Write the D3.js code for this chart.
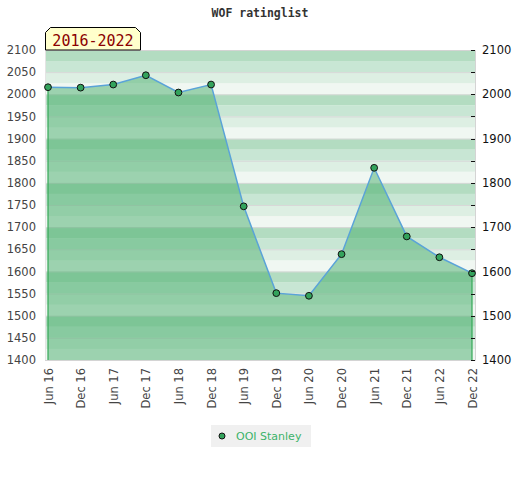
<!DOCTYPE html>
<html>
<head>
<meta charset="utf-8">
<script src="https://cdn.jsdelivr.net/npm/d3@7"></script>
<style>
  body { margin: 0; background: #fff; }
</style>
</head>
<body>
<svg id="chart" width="520" height="480"></svg>
<script>
// data
var months = ["Jun 16", "Dec 16", "Jun 17", "Dec 17", "Jun 18", "Dec 18", "Jun 19",
              "Dec 19", "Jun 20", "Dec 20", "Jun 21", "Dec 21", "Jun 22", "Dec 22"];
var ratings = [2016, 2015, 2022, 2043, 2004, 2022, 1747,
               1551, 1545, 1639, 1834, 1679, 1632, 1596];
var seriesName = "OOI Stanley";
var yTicks = [1400, 1450, 1500, 1550, 1600, 1650, 1700, 1750, 1800, 1850, 1900, 1950, 2000, 2050, 2100];
var periodLabel = "2016-2022";

var svg = d3.select("#chart");
var plot = {left: 45, right: 475, top: 50, bottom: 360};

var x = d3.scalePoint()
    .domain(d3.range(months.length))
    .range([plot.left + 3, plot.right - 3]);
var y = d3.scaleLinear().domain([1400, 2100]).range([plot.bottom, plot.top]);

// background bands, 25 points each
var bandColors = ["#b3dcc1", "#c8e6d4", "#ddefe3", "#f0f7f2"];
var bands = d3.range(1400, 2100, 25);
svg.append("g").selectAll("rect")
    .data(bands)
    .enter().append("rect")
    .attr("x", plot.left)
    .attr("width", plot.right - plot.left)
    .attr("y", function (d) { return y(d + 25); })
    .attr("height", function (d) { return y(d) - y(d + 25); })
    .attr("fill", function (d) {
        var i = Math.round((2100 - (d + 25)) / 25) % 4;
        return bandColors[i];
    });

// grid lines every 50
svg.append("g").selectAll("line")
    .data(yTicks)
    .enter().append("line")
    .attr("x1", plot.left).attr("x2", plot.right)
    .attr("y1", function (d) { return y(d) + 0.5; })
    .attr("y2", function (d) { return y(d) + 0.5; })
    .attr("stroke", "#d8d8d8")
    .attr("stroke-width", 1);

// frame
svg.append("path")
    .attr("d", "M" + plot.left + "," + (plot.top + 0.5) + "H" + (plot.right + 0.5) +
               "V" + (plot.bottom + 0.5) + "H" + plot.left)
    .attr("fill", "none")
    .attr("stroke", "#d4d4d4");
svg.append("line")
    .attr("x1", plot.left + 0.5).attr("x2", plot.left + 0.5)
    .attr("y1", plot.top).attr("y2", plot.bottom)
    .attr("stroke", "#e4e4e4");

// area
var area = d3.area()
    .x(function (d, i) { return x(i); })
    .y0(plot.bottom)
    .y1(function (d) { return y(d); });
svg.append("path")
    .datum(ratings)
    .attr("d", area)
    .attr("fill", "#47ad6b")
    .attr("fill-opacity", 0.5);

// area sides
var last = ratings.length - 1;
svg.append("g").selectAll("line")
    .data([0, last])
    .enter().append("line")
    .attr("x1", function (i) { return x(i); })
    .attr("x2", function (i) { return x(i); })
    .attr("y1", function (i) { return y(ratings[i]); })
    .attr("y2", plot.bottom)
    .attr("stroke", "#35a857")
    .attr("stroke-width", 1.2);

// line
var line = d3.line()
    .x(function (d, i) { return x(i); })
    .y(function (d) { return y(d); });
svg.append("path")
    .datum(ratings)
    .attr("d", line)
    .attr("fill", "none")
    .attr("stroke", "#5aa3d8")
    .attr("stroke-width", 1.5);

// markers
svg.append("g").selectAll("circle")
    .data(ratings)
    .enter().append("circle")
    .attr("cx", function (d, i) { return x(i); })
    .attr("cy", function (d) { return y(d); })
    .attr("r", 3.4)
    .attr("fill", "#33a35c")
    .attr("stroke", "#111")
    .attr("stroke-width", 1);

// left axis
var leftAxis = svg.append("g")
    .attr("transform", "translate(" + plot.left + ",0)")
    .call(d3.axisLeft(y).tickValues(yTicks).tickSize(0).tickPadding(9).tickFormat(d3.format("d")));
leftAxis.select(".domain").remove();
leftAxis.selectAll("text")
    .attr("font-size", 11.5)
    .attr("fill", "#444")
    .attr("font-family", "DejaVu Sans");

// right axis
var rightAxis = svg.append("g")
    .attr("transform", "translate(" + plot.right + ",0)")
    .call(d3.axisRight(y).tickValues(yTicks).tickSize(0).tickPadding(7)
        .tickFormat(function (d) { return d % 100 === 0 ? d : ""; }));
rightAxis.select(".domain").remove();
rightAxis.selectAll("text")
    .attr("font-size", 11.5)
    .attr("fill", "#111")
    .attr("font-family", "DejaVu Sans");
rightAxis.selectAll(".tick")
    .append("line")
    .attr("x1", -4).attr("x2", 0)
    .attr("stroke", "#111")
    .attr("shape-rendering", "crispEdges");

// bottom labels
var bottomAxis = svg.append("g")
    .attr("transform", "translate(0," + plot.bottom + ")")
    .call(d3.axisBottom(x).tickSize(0).tickFormat(function (i) { return months[i]; }));
bottomAxis.select(".domain").remove();
bottomAxis.selectAll("text")
    .attr("transform", "rotate(-90)")
    .attr("text-anchor", "end")
    .attr("dy", "0.35em")
    .attr("x", -8)
    .attr("y", 0)
    .attr("font-size", 11.5)
    .attr("fill", "#444")
    .attr("font-family", "DejaVu Sans");

// title
svg.append("text")
    .attr("x", 260).attr("y", 17)
    .attr("text-anchor", "middle")
    .attr("font-family", "DejaVu Sans Mono")
    .attr("font-weight", "bold")
    .attr("font-size", 11.5)
    .attr("fill", "#333")
    .text("WOF ratinglist");

// period label box
var bx = 45.5, by = 27.5, bw = 95, bh = 22.5, c = 5;
svg.append("path")
    .attr("d", "M" + bx + "," + (by + bh) + "V" + (by + c) + "L" + (bx + c) + "," + by +
               "H" + (bx + bw - c) + "L" + (bx + bw) + "," + (by + c) + "V" + (by + bh) + "Z")
    .attr("fill", "#ffffcc")
    .attr("stroke", "#000")
    .attr("stroke-width", 1);
svg.append("text")
    .attr("x", bx + bw / 2).attr("y", 45.5)
    .attr("text-anchor", "middle")
    .attr("font-family", "DejaVu Sans Mono")
    .attr("font-size", 15)
    .attr("fill", "#8b0000")
    .text(periodLabel);

// legend
var legend = svg.append("g").attr("transform", "translate(211,425)");
legend.append("rect")
    .attr("width", 100).attr("height", 22)
    .attr("fill", "#f0f0f0");
legend.append("circle")
    .attr("cx", 11).attr("cy", 11).attr("r", 3)
    .attr("fill", "#33a35c").attr("stroke", "#111").attr("stroke-width", 1);
legend.append("text")
    .attr("x", 25).attr("y", 15)
    .attr("font-family", "DejaVu Sans")
    .attr("font-size", 11)
    .attr("fill", "#3cb36a")
    .text(seriesName);
</script>
</body>
</html>
